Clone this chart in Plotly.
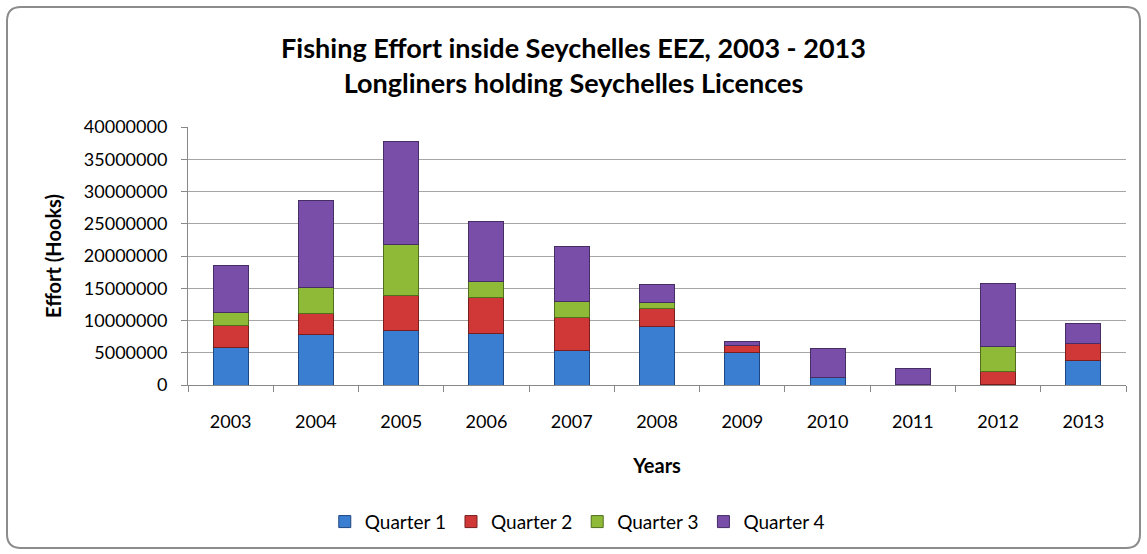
import plotly.graph_objects as go

years = ["2003", "2004", "2005", "2006", "2007", "2008", "2009", "2010", "2011", "2012", "2013"]
quarter_1 = [5800000, 7900000, 8500000, 8000000, 5400000, 9000000, 5000000, 1100000, 100000, 50000, 3750000]
quarter_2 = [3400000, 3250000, 5300000, 5500000, 5000000, 2800000, 1050000, 0, 0, 2100000, 2700000]
quarter_3 = [2100000, 3950000, 8000000, 2550000, 2600000, 1050000, 0, 0, 0, 3850000, 0]
quarter_4 = [7300000, 13500000, 16000000, 9250000, 8500000, 2700000, 700000, 4500000, 2500000, 9800000, 3100000]

series = [
    ("Quarter 1", quarter_1, "rgb(58,126,210)", "rgb(30,70,130)"),
    ("Quarter 2", quarter_2, "rgb(208,56,56)", "rgb(120,30,30)"),
    ("Quarter 3", quarter_3, "rgb(143,186,56)", "rgb(80,110,30)"),
    ("Quarter 4", quarter_4, "rgb(120,78,168)", "rgb(70,45,100)"),
]

W, H = 1147, 554
L, R, T, B = 188, 21, 127, 169


def px(x):
    return (x - L) / (W - L - R)


def py(y):
    return (H - B - y) / (H - T - B)


fig = go.Figure()
for name, vals, color, edge in series:
    fig.add_trace(go.Bar(
        x=years,
        y=vals,
        name=name,
        marker=dict(color=color, line=dict(color=edge, width=1)),
    ))

# rounded frame around the whole chart (pixel corners converted to paper coords)
x0, x1, y0, y1, rr = 7, 1140, 7, 548, 14
frame = (f"M {px(x0 + rr)},{py(y0)} L {px(x1 - rr)},{py(y0)} "
         f"Q {px(x1)},{py(y0)} {px(x1)},{py(y0 + rr)} L {px(x1)},{py(y1 - rr)} "
         f"Q {px(x1)},{py(y1)} {px(x1 - rr)},{py(y1)} L {px(x0 + rr)},{py(y1)} "
         f"Q {px(x0)},{py(y1)} {px(x0)},{py(y1 - rr)} L {px(x0)},{py(y0 + rr)} "
         f"Q {px(x0)},{py(y0)} {px(x0 + rr)},{py(y0)} Z")

fig.update_layout(
    barmode="stack",
    bargap=0.59,
    width=W,
    height=H,
    paper_bgcolor="white",
    plot_bgcolor="white",
    font=dict(family="Lato, sans-serif", size=18, color="black"),
    margin=dict(l=L, r=R, t=T, b=B),
    title=dict(
        text="<b>Fishing Effort inside Seychelles EEZ, 2003 - 2013<br>Longliners holding Seychelles Licences</b>",
        x=0.5, xanchor="center", y=0.895, yanchor="middle",
        font=dict(size=27, family="Lato, sans-serif"),
    ),
    xaxis=dict(
        title=dict(text="<b>Years</b>", standoff=28, font=dict(size=20)),
        ticks="outside", tickson="boundaries", ticklen=6, tickcolor="#888",
        ticklabelstandoff=20,
        showline=True, linecolor="#888", linewidth=1,
    ),
    yaxis=dict(
        title=dict(text="<b>Effort (Hooks)</b>", standoff=16, font=dict(size=20)),
        range=[0, 40000000], dtick=5000000, tickformat="d",
        showgrid=True, gridcolor="#a6a6a6", gridwidth=1,
        ticks="outside", ticklen=6, tickcolor="#888",
        ticklabelstandoff=10,
        showline=True, linecolor="#888", linewidth=1,
        zeroline=False,
    ),
    legend=dict(
        orientation="h", x=0.415, xanchor="center", y=-0.53, yanchor="middle",
        font=dict(size=19), traceorder="normal",
    ),
    shapes=[dict(
        type="path", xref="paper", yref="paper", path=frame,
        line=dict(color="#8c8c8c", width=2), layer="below",
    )],
)

fig.write_html("out.html", config={"displayModeBar": False},
               post_script="document.body.style.margin='0';")
